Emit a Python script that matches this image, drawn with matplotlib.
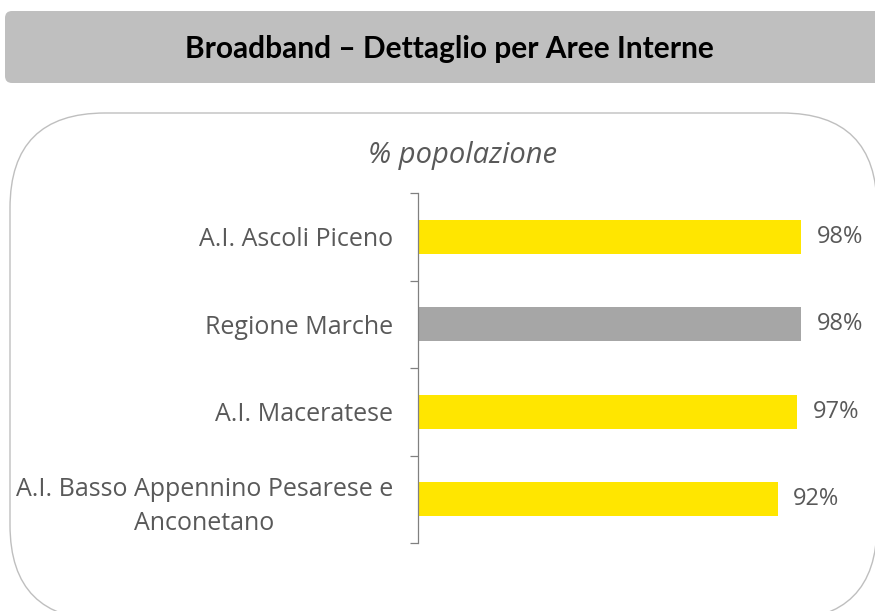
import matplotlib
matplotlib.use("Agg")
import matplotlib.pyplot as plt
from matplotlib.patches import FancyBboxPatch
import numpy as np

categories = ["A.I. Ascoli Piceno", "Regione Marche", "A.I. Maceratese",
              "A.I. Basso Appennino Pesarese e\nAnconetano"]
values = [0.98, 0.98, 0.97, 0.92]
bar_colors = ["#FFE600", "#A6A6A6", "#FFE600", "#FFE600"]
value_labels = ["98%", "98%", "97%", "92%"]
title = "Broadband \u2013 Dettaglio per Aree Interne"
subtitle = "% popolazione"

W, H = 875, 611
fig = plt.figure(figsize=(W / 100, H / 100), dpi=100)
fig.patch.set_facecolor("white")

# background canvas in pixel coordinates
bg = fig.add_axes([0, 0, 1, 1], zorder=0)
bg.set_xlim(0, W)
bg.set_ylim(H, 0)
bg.axis("off")

header = FancyBboxPatch((5, 11), 890, 72, boxstyle="round,pad=0,rounding_size=7",
                        facecolor="#BFBFBF", edgecolor="none")
bg.add_patch(header)
bg.text(449, 49, title, ha="center", va="center", fontsize=21.5, fontweight="bold",
        family=["Lato", "DejaVu Sans"], color="black")

box = FancyBboxPatch((10, 113), 867, 507, boxstyle="round,pad=0,rounding_size=95",
                     facecolor="white", edgecolor="#BFBFBF", linewidth=1.0)
bg.add_patch(box)
bg.text(463, 155, subtitle, ha="center", va="center", fontsize=21, style="italic",
        family=["Open Sans", "DejaVu Sans"], color="#595959")

# chart axes
x0, x1 = 418, 809
y_top, y_bot = 193, 543
ax = fig.add_axes([x0 / W, 1 - y_bot / H, (x1 - x0) / W, (y_bot - y_top) / H], zorder=1)
ax.patch.set_alpha(0)
y = np.arange(len(categories))
ax.barh(y, values, height=0.39, color=bar_colors)
ax.set_xlim(0, 1)
ax.set_ylim(len(categories) - 0.5, -0.5)

for yi, v, lab in zip(y, values, value_labels):
    ax.annotate(lab, (v, yi), xytext=(11, 0), textcoords="offset points",
                ha="left", va="center", fontsize=17, color="#595959",
                family=["Open Sans", "DejaVu Sans"])

for s in ["top", "right", "bottom"]:
    ax.spines[s].set_visible(False)
ax.spines["left"].set_color("#808080")
ax.spines["left"].set_linewidth(0.9)
ax.set_xticks([])
ax.set_yticks(y)
ax.set_yticklabels(categories, fontsize=18, color="#595959",
                   family=["Open Sans", "DejaVu Sans"], multialignment="center",
                   linespacing=1.45)
ax.tick_params(axis="y", which="major", length=0, pad=18)
ax.set_yticks(np.arange(-0.5, len(categories), 1.0), minor=True)
ax.tick_params(axis="y", which="minor", length=5.8, width=0.9, color="#808080", direction="out")

fig.savefig("out.png", dpi=100)
